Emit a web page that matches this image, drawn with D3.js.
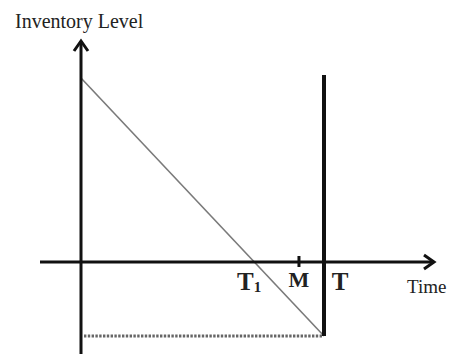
<!DOCTYPE html>
<html><head><meta charset="utf-8">
<script src="https://cdn.jsdelivr.net/npm/d3@7"></script>
<style>body{margin:0;background:#fff}svg{display:block}</style>
</head><body>
<script>
// Data (normalized time: 0 = start, 1 = T; inventory: 1 = initial stock)
const timeKeys = ["O", "T1", "M", "T"];
const timeValues = [0, 0.716, 0.897, 1];
const inventoryTimes = [0, 1];
const inventoryLevels = [1, -0.402];
const axisLabels = ["Inventory Level", "Time"];

const W = 451, H = 354;
const svg = d3.select("body").append("svg").attr("width", W).attr("height", H);

const x = d3.scaleLinear().domain([0, 1]).range([81, 324]);
const y = d3.scaleLinear().domain([0, 1]).range([262, 78]);

const tv = k => timeValues[timeKeys.indexOf(k)];
const ink = "#111";

// dotted line at minimum inventory
const minLev = d3.min(inventoryLevels);
svg.append("line")
  .attr("x1", x(0) + 3).attr("x2", x(tv("T")) - 2)
  .attr("y1", y(minLev)).attr("y2", y(minLev))
  .attr("stroke", "#666").attr("stroke-width", 3).attr("stroke-dasharray", "2.4,1.4");

// inventory line
const line = d3.line().x(d => x(d[0])).y(d => y(d[1]));
svg.append("path")
  .datum(inventoryTimes.map((t, i) => [t, inventoryLevels[i]]))
  .attr("d", line).attr("fill", "none").attr("stroke", "#7a7a7a").attr("stroke-width", 1.6);

// x axis
const xStart = x.invert(40), xEnd = x.invert(434);
svg.append("line").attr("x1", x(xStart)).attr("x2", x(xEnd))
  .attr("y1", y(0)).attr("y2", y(0)).attr("stroke", ink).attr("stroke-width", 3);
svg.append("path")
  .attr("d", `M${x(xEnd) - 10},${y(0) - 7} L${x(xEnd)},${y(0)} L${x(xEnd) - 10},${y(0) + 7}`)
  .attr("fill", "none").attr("stroke", ink).attr("stroke-width", 3);

// y axis
const yTop = y.invert(41), yBot = y.invert(354);
svg.append("line").attr("x1", x(0)).attr("x2", x(0))
  .attr("y1", y(yTop)).attr("y2", y(yBot)).attr("stroke", ink).attr("stroke-width", 3);
svg.append("path")
  .attr("d", `M${x(0) - 7},${y(yTop) + 10} L${x(0)},${y(yTop)} L${x(0) + 7},${y(yTop) + 10}`)
  .attr("fill", "none").attr("stroke", ink).attr("stroke-width", 3);

// T vertical line
svg.append("line").attr("x1", x(tv("T"))).attr("x2", x(tv("T")))
  .attr("y1", y(1.016)).attr("y2", y(minLev)).attr("stroke", ink).attr("stroke-width", 4);

// M tick
svg.append("line").attr("x1", x(tv("M"))).attr("x2", x(tv("M")))
  .attr("y1", y(0) - 6).attr("y2", y(0) + 5).attr("stroke", ink).attr("stroke-width", 3);

// labels
const font = "'Liberation Serif', 'Times New Roman', serif";
const t1 = svg.append("text").attr("x", x(tv("T1")) - 18).attr("y", 290)
  .attr("font-family", font).attr("font-size", 25).attr("font-weight", "bold").attr("fill", "#222");
t1.append("tspan").text("T");
t1.append("tspan").attr("dy", 2).attr("font-size", 15).text("1");

svg.append("text").attr("x", x(tv("M"))).attr("y", 287).attr("text-anchor", "middle")
  .attr("font-family", font).attr("font-size", 22).attr("font-weight", "bold").attr("fill", "#222")
  .text("M");

svg.append("text").attr("x", x(tv("T")) + 16).attr("y", 290).attr("text-anchor", "middle")
  .attr("font-family", font).attr("font-size", 25).attr("font-weight", "bold").attr("fill", "#222")
  .text("T");

svg.append("text").attr("x", 407).attr("y", 293)
  .attr("font-family", font).attr("font-size", 19).attr("fill", "#222")
  .text(axisLabels[1]);

svg.append("text").attr("x", 15).attr("y", 28)
  .attr("font-family", font).attr("font-size", 20).attr("fill", "#222")
  .text(axisLabels[0]);
</script>
</body></html>
